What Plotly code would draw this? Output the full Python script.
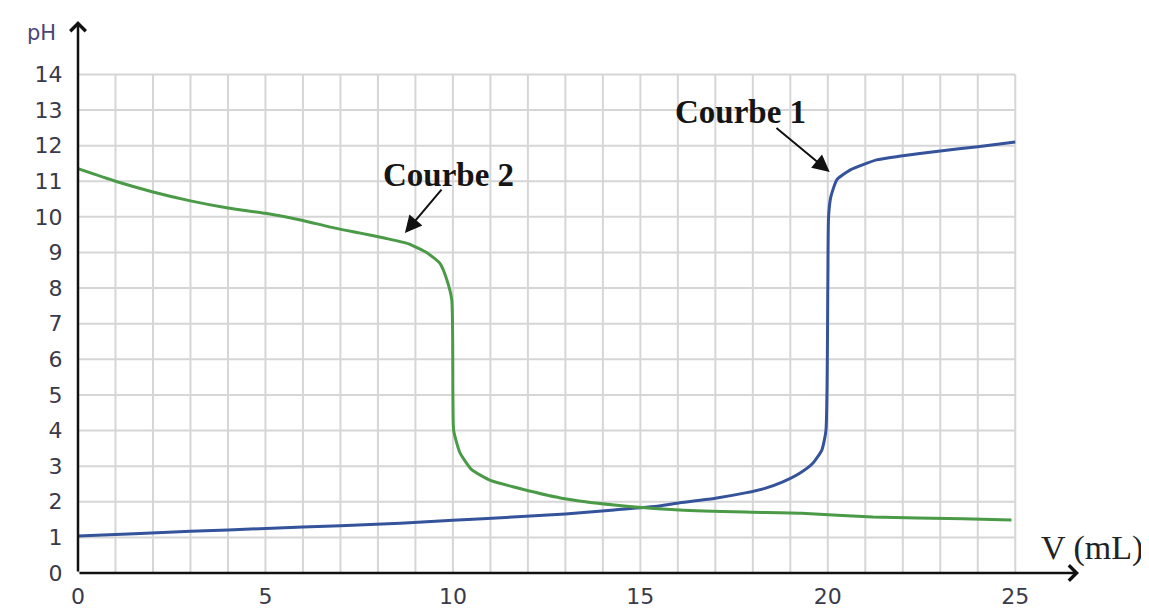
import plotly.graph_objects as go

# ---- data ----
v_courbe1 = [0, 1.5, 3, 5, 7, 8.6, 10, 11.6, 13, 14.3, 15.5, 16.05, 17, 17.8, 18.3, 18.8,
             19.25, 19.6, 19.84, 19.95, 20.0, 20.02, 20.08, 20.24, 20.6, 21.3, 21.9, 23, 24, 25]
ph_courbe1 = [1.04, 1.1, 1.17, 1.25, 1.33, 1.4, 1.48, 1.57, 1.66, 1.77, 1.88, 1.97, 2.1, 2.25, 2.37, 2.56,
              2.8, 3.08, 3.45, 4.0, 8.0, 10.0, 10.56, 11.04, 11.32, 11.6, 11.7, 11.85, 11.97, 12.1]

v_courbe2 = [0, 1, 2, 3, 4, 5, 6, 6.7, 7.5, 8.2, 8.8, 9.3, 9.65, 9.84, 9.97, 10.0, 10.02, 10.19, 10.5,
             11, 11.6, 12.9, 14.3, 16.05, 17.8, 19.3, 21.2, 23.6, 24.9]
ph_courbe2 = [11.35, 11.0, 10.7, 10.45, 10.25, 10.1, 9.9, 9.72, 9.55, 9.4, 9.25, 9.0, 8.7, 8.23, 7.67, 5.0,
              4.0, 3.37, 2.9, 2.6, 2.42, 2.1, 1.91, 1.77, 1.71, 1.68, 1.57, 1.52, 1.49]

x_ticks = [0, 5, 10, 15, 20, 25]
y_ticks = list(range(0, 15))
x_grid = list(range(0, 26))
y_grid = list(range(0, 15))

X_MAX, Y_MAX = 26.7, 15.5

fig = go.Figure()
fig.add_trace(go.Scatter(x=v_courbe1, y=ph_courbe1, mode="lines",
                         line=dict(color="#34539a", width=3, shape="spline", smoothing=0.5),
                         name="Courbe 1"))
fig.add_trace(go.Scatter(x=v_courbe2, y=ph_courbe2, mode="lines",
                         line=dict(color="#4a9a48", width=3, shape="spline", smoothing=0.5),
                         name="Courbe 2"))

shapes = []
for gx in x_grid:
    shapes.append(dict(type="line", x0=gx, x1=gx, y0=0, y1=y_grid[-1], xref="x", yref="y",
                       line=dict(color="#d6d6d6", width=2), layer="below"))
for gy in y_grid:
    shapes.append(dict(type="line", x0=0, x1=x_grid[-1], y0=gy, y1=gy, xref="x", yref="y",
                       line=dict(color="#d6d6d6", width=2), layer="below"))

annotations = [
    # axes with arrows
    dict(x=X_MAX, y=0, ax=0, ay=0, xref="x", yref="y", axref="x", ayref="y", text="",
         showarrow=True, arrowhead=4, arrowsize=1.2, arrowwidth=2.5, arrowcolor="#111"),
    dict(x=0, y=Y_MAX, ax=0, ay=0, xref="x", yref="y", axref="x", ayref="y", text="",
         showarrow=True, arrowhead=4, arrowsize=1.2, arrowwidth=2.5, arrowcolor="#111"),
    # axis titles
    dict(x=-0.036, y=0.978, xref="paper", yref="paper", text="pH", showarrow=False,
         font=dict(family="DejaVu Sans", size=21, color="#4b4478"),
         xanchor="center", yanchor="middle"),
    dict(x=1.013, y=0.045, xref="paper", yref="paper", text="V (mL)", showarrow=False,
         font=dict(family="Liberation Serif", size=34, color="#222"),
         xanchor="center", yanchor="middle"),
    # curve labels
    dict(x=9.87, y=11.18, xref="x", yref="y", text="<b>Courbe 2</b>", showarrow=False,
         font=dict(family="Liberation Serif", size=33, color="#151515")),
    dict(x=17.68, y=12.95, xref="x", yref="y", text="<b>Courbe 1</b>", showarrow=False,
         font=dict(family="Liberation Serif", size=33, color="#151515")),
    dict(x=8.72, y=9.55, ax=9.73, ay=10.81, xref="x", yref="y", axref="x", ayref="y", text="",
         showarrow=True, arrowhead=2, arrowsize=1.7, arrowwidth=2, arrowcolor="#111"),
    dict(x=20.05, y=11.26, ax=18.59, ay=12.53, xref="x", yref="y", axref="x", ayref="y", text="",
         showarrow=True, arrowhead=2, arrowsize=1.7, arrowwidth=2, arrowcolor="#111"),
]

fig.update_layout(
    width=1149, height=614,
    margin=dict(l=70, r=78, t=13, b=49, autoexpand=False),
    paper_bgcolor="white", plot_bgcolor="white",
    showlegend=False,
    shapes=shapes, annotations=annotations,
    xaxis=dict(range=[0, X_MAX], tickvals=x_ticks, showgrid=False, zeroline=False,
               showline=False, ticks="outside", ticklen=4, tickcolor="rgba(0,0,0,0)",
               automargin=False,
               tickfont=dict(family="DejaVu Sans", size=22, color="#3a3a4a")),
    yaxis=dict(range=[0, Y_MAX], tickvals=y_ticks, showgrid=False, zeroline=False,
               showline=False, ticks="outside", ticklen=10, tickcolor="rgba(0,0,0,0)",
               automargin=False,
               tickfont=dict(family="DejaVu Sans", size=22, color="#3a3a4a")),
)

fig.write_html("out.html")
